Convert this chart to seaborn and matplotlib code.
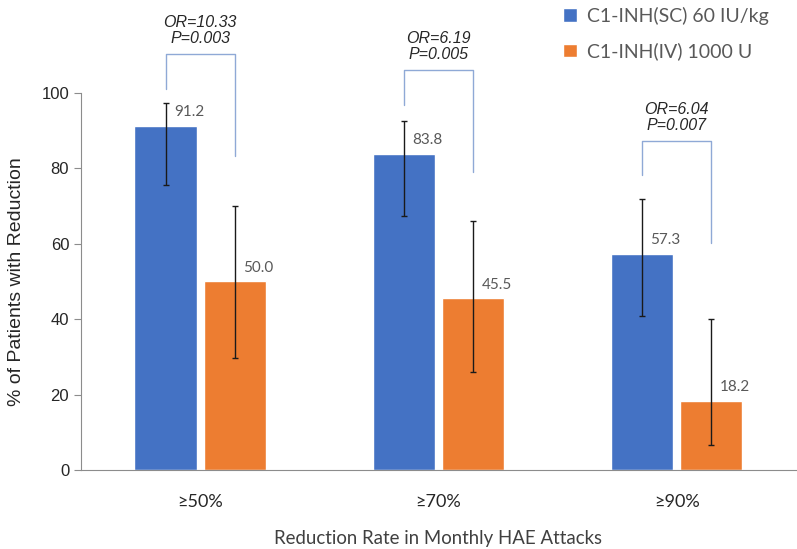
import matplotlib
matplotlib.use('Agg')
import matplotlib.pyplot as plt
import seaborn as sns
import pandas as pd

categories = ['≥50%', '≥70%', '≥90%']
groups = ['C1-INH(SC) 60 IU/kg', 'C1-INH(IV) 1000 U']
sc_values = [91.2, 83.8, 57.3]
iv_values = [50.0, 45.5, 18.2]
sc_lower = [75.6, 67.5, 40.9]
sc_upper = [97.3, 92.7, 71.9]
iv_lower = [29.7, 26.0, 6.6]
iv_upper = [70.1, 66.1, 40.0]
odds_ratios = ['10.33', '6.19', '6.04']
p_values = ['0.003', '0.005', '0.007']
# bracket heights (in % units) for the OR annotations
bracket_top = [110.3, 106.1, 87.3]
bracket_left = [101.1, 96.8, 78.2]
bracket_right = [83.3, 79.1, 60.2]

colors = ['#4472C4', '#ED7D31']
calibri = ['Lato', 'DejaVu Sans']
arial = ['Liberation Sans', 'DejaVu Sans']

df = pd.DataFrame({
    'reduction': categories * 2,
    'pct': sc_values + iv_values,
    'group': [groups[0]] * 3 + [groups[1]] * 3,
})

sns.set_style('white')
fig = plt.figure(figsize=(7.97, 5.49), dpi=100)
ax = fig.add_axes([0.1016, 0.1439, 0.897, 0.6867])

sns.barplot(data=df, x='reduction', y='pct', hue='group', palette=colors,
            width=0.58, gap=0.1, errorbar=None, saturation=1, ax=ax)

ax.set_xlim(-0.5, 2.5)
ax.set_ylim(0, 100)
ax.set_yticks([0, 20, 40, 60, 80, 100])

# error bars + value labels
lows = [sc_lower, iv_lower]
ups = [sc_upper, iv_upper]
vals = [sc_values, iv_values]
centers = []
bar_containers = list(ax.containers)
for k, cont in enumerate(bar_containers):
    xs = [p.get_x() + p.get_width() / 2 for p in cont.patches]
    centers.append(xs)
    v = vals[k]
    err = [[v[i] - lows[k][i] for i in range(3)], [ups[k][i] - v[i] for i in range(3)]]
    ax.errorbar(xs, v, yerr=err, fmt='none', ecolor='#1a1a1a', elinewidth=1,
                capsize=2.5, capthick=1, zorder=5)
    for i in range(3):
        ax.annotate(f'{v[i]:.1f}', (xs[i], v[i]), xytext=(6, 5), textcoords='offset points',
                    ha='left', va='bottom', fontsize=11, color='#595959', family=calibri)

# OR brackets
for i in range(3):
    x0, x1 = centers[0][i], centers[1][i]
    ax.plot([x0, x0, x1, x1], [bracket_left[i], bracket_top[i], bracket_top[i], bracket_right[i]],
            color='#8FA9D6', lw=1, clip_on=False)
    ax.annotate(f'OR={odds_ratios[i]}\nP={p_values[i]}', ((x0 + x1) / 2, bracket_top[i]),
                xytext=(0, 6), textcoords='offset points', ha='center', va='bottom',
                fontsize=11.5, style='italic', color='#262626', family=arial,
                linespacing=1.05, annotation_clip=False)

# legend
handles, labels = ax.get_legend_handles_labels()
ax.legend(handles, labels, loc='upper left', bbox_to_anchor=(563 / 797, 1 - 7 / 549),
          bbox_transform=fig.transFigure, frameon=False, borderaxespad=0, borderpad=0,
          handlelength=0.7, handleheight=0.7, handletextpad=0.55, labelspacing=0.9,
          prop={'family': calibri, 'size': 14}, labelcolor='#595959')

sns.despine(ax=ax)
ax.spines['left'].set_color('#8c8c8c')
ax.spines['bottom'].set_color('#8c8c8c')
ax.tick_params(axis='y', left=True, length=5, color='#8c8c8c', labelsize=12, labelcolor='#262626')
ax.tick_params(axis='x', bottom=False, pad=14, labelsize=13, labelcolor='#262626')
for t in ax.get_yticklabels():
    t.set_family(arial)
for t in ax.get_xticklabels():
    t.set_family(calibri)

ax.set_xlabel('Reduction Rate in Monthly HAE Attacks', fontsize=13.4, color='#404040',
              family=calibri, labelpad=14)
ax.set_ylabel('% of Patients with Reduction', fontsize=14, color='#262626',
              family=arial, labelpad=12)

fig.savefig('out.png', dpi=100)
